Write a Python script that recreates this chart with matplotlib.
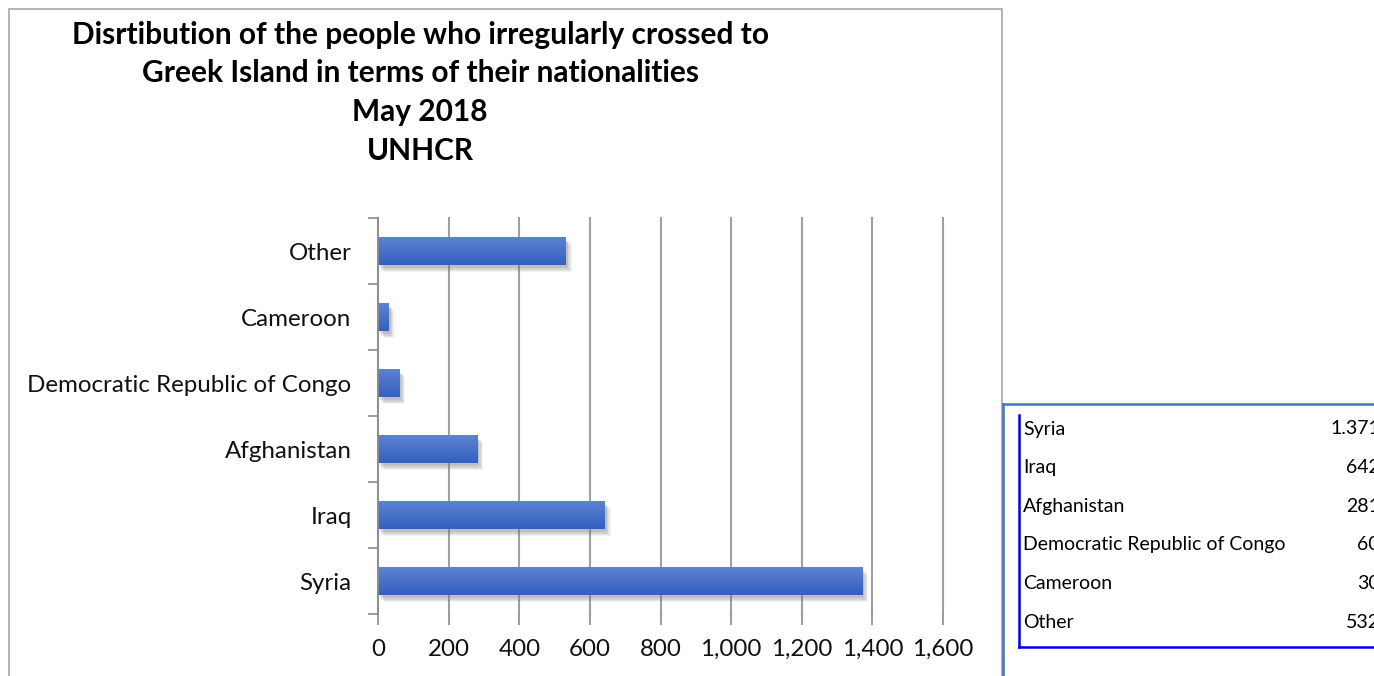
import matplotlib
matplotlib.use("Agg")
import matplotlib.pyplot as plt
import numpy as np
from matplotlib.patches import Rectangle
from matplotlib.lines import Line2D
import matplotlib.patheffects as pe
from matplotlib.colors import LinearSegmentedColormap

plt.rcParams['font.family'] = ['Lato', 'DejaVu Sans']

categories = ["Syria", "Iraq", "Afghanistan", "Democratic Republic of Congo", "Cameroon", "Other"]
values = [1371, 642, 281, 60, 30, 532]
xticks = [0, 200, 400, 600, 800, 1000, 1200, 1400, 1600]
xtick_labels = ["0", "200", "400", "600", "800", "1,000", "1,200", "1,400", "1,600"]
title_lines = ["Disrtibution of the people who irregularly crossed to",
               "Greek Island in terms of their nationalities",
               "May 2018",
               "UNHCR"]

W, H = 1374, 676
fig = plt.figure(figsize=(W / 100, H / 100), dpi=100)
fig.patch.set_facecolor("white")

def fx(px):
    return px / W

def fy(py):
    return 1 - py / H

# chart frame
fig.add_artist(Rectangle((fx(9), fy(690)), fx(1002) - fx(9), fy(9) - fy(690),
                         transform=fig.transFigure, fill=False,
                         edgecolor="#a6a6a6", linewidth=1.2))

ax = fig.add_axes([fx(378), fy(614), fx(943) - fx(378), fy(218) - fy(614)])
ypos = np.arange(len(categories))
bars = ax.barh(ypos, values, height=0.42, color="#4472C4", zorder=3)

cmap = LinearSegmentedColormap.from_list("g", ["#3360c0", "#5d82d0"])
grad = np.linspace(0, 1, 64).reshape(-1, 1)
shadow = [pe.SimplePatchShadow(offset=(o, -o - 1), shadow_rgbFace="#777777", alpha=a)
          for o, a in [(4.5, 0.08), (3.5, 0.12), (2.5, 0.16), (1.5, 0.2)]]
for b in bars:
    b.set_path_effects(shadow + [pe.Normal()])
    x0, y0 = b.get_x(), b.get_y()
    im = ax.imshow(grad, extent=[x0, x0 + b.get_width(), y0, y0 + b.get_height()],
                   aspect="auto", cmap=cmap, origin="lower", zorder=4, interpolation="bicubic")
    im.set_clip_path(b)

ax.set_xlim(0, 1600)
ax.set_ylim(-0.5, len(categories) - 0.5)
ax.set_xticks(xticks)
ax.set_xticklabels(xtick_labels)
ax.set_yticks(ypos)
ax.set_yticklabels(categories)
ax.set_yticks(np.arange(-0.5, len(categories)), minor=True)
ax.tick_params(axis="y", which="major", length=0, pad=19, labelsize=17.4)
ax.tick_params(axis="y", which="minor", length=7, color="#8c8c8c", width=1.2)
ax.tick_params(axis="x", length=8, color="#8c8c8c", width=1.2, labelsize=17.4, pad=10)
ax.grid(axis="x", color="#a0a0a0", linewidth=1.5, zorder=0)
for gl in ax.get_xgridlines():
    gl.set_clip_on(False)
for s in ["top", "right", "bottom"]:
    ax.spines[s].set_visible(False)
ax.spines["left"].set_color("#8c8c8c")
ax.spines["left"].set_linewidth(1.2)
ax.spines["left"].set_zorder(5)
for lbl in ax.get_xticklabels() + ax.get_yticklabels():
    lbl.set_color("#111111")

# title
for i, t in enumerate(title_lines):
    fig.text(fx(420), fy(35 + i * 38.5), t, ha="center", va="center",
             fontsize=21.5, fontweight="bold", color="black")

# data table on the right
fig.add_artist(Line2D([fx(1003), fx(1374)], [fy(404), fy(404)], transform=fig.transFigure,
                      color="#4472C4", linewidth=1.8))
fig.add_artist(Line2D([fx(1003), fx(1003)], [fy(404), fy(680)], transform=fig.transFigure,
                      color="#4472C4", linewidth=1.8))
fig.add_artist(Line2D([fx(1019), fx(1019)], [fy(415), fy(647)], transform=fig.transFigure,
                      color="#0000ee", linewidth=1.8))
fig.add_artist(Line2D([fx(1019), fx(1374)], [fy(647), fy(647)], transform=fig.transFigure,
                      color="#0000ee", linewidth=1.8))
for i, (c, v) in enumerate(zip(categories, values)):
    y = fy(429 + i * 38.6)
    fig.text(fx(1023), y, c, ha="left", va="center", fontsize=14, color="black")
    fig.text(fx(1380), y, f"{v:,}".replace(",", "."), ha="right", va="center",
             fontsize=14, color="black")

fig.savefig("out.png", dpi=100)
